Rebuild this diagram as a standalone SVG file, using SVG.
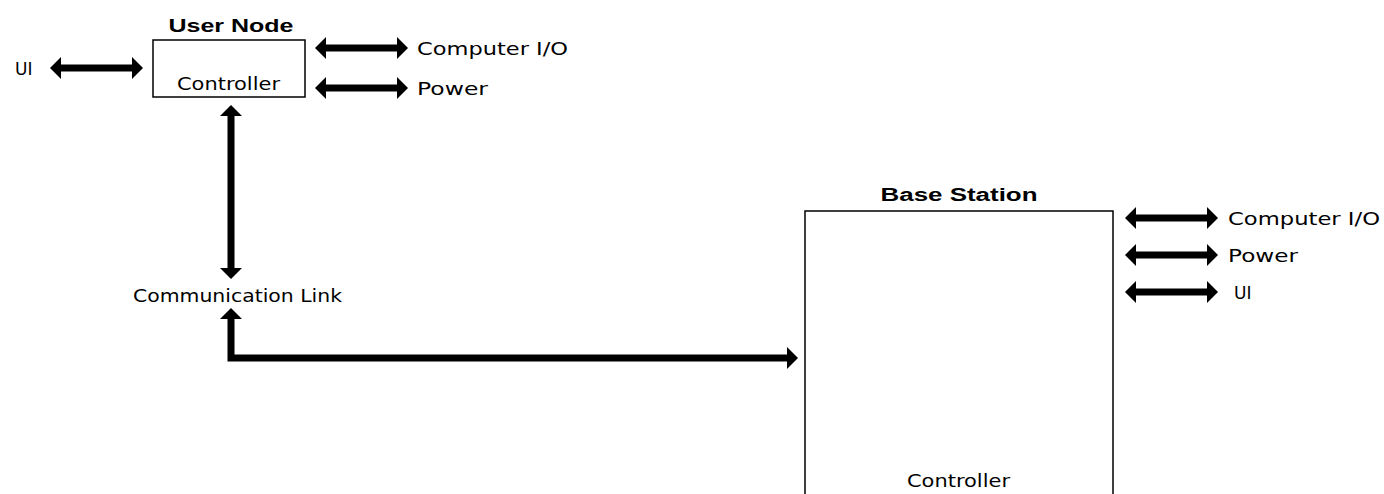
<svg xmlns="http://www.w3.org/2000/svg" width="1384" height="494" viewBox="0 0 1384 494">
<style>
.box{fill:#fff;stroke:#000;stroke-width:1.5}
.t{font-family:"DejaVu Sans","Liberation Sans",sans-serif;font-size:17px;fill:#000}
.h{font-family:"Liberation Sans",Arial,sans-serif;font-size:18px;font-weight:bold;fill:#000}
.c{fill:none;stroke:#000;stroke-width:7;stroke-linejoin:miter}
</style>
<defs>
<marker id="ah" markerUnits="userSpaceOnUse" markerWidth="11" markerHeight="22" refX="0" refY="11" orient="auto-start-reverse">
<path d="M0,0 L11,11 L0,22 z" fill="#000"/>
</marker>
</defs>
<rect width="1384" height="494" fill="#fff"/>
<g id="user-node">
<rect class="box" x="153" y="40" width="152" height="57"/>
<text class="h" x="231" y="32" text-anchor="middle" textLength="125" lengthAdjust="spacingAndGlyphs">User Node</text>
<text class="t" x="177" y="90" textLength="103" lengthAdjust="spacingAndGlyphs">Controller</text>
</g>
<g id="base-station">
<rect class="box" x="805" y="211" width="308" height="300"/>
<text class="h" x="959" y="201" text-anchor="middle" textLength="157" lengthAdjust="spacingAndGlyphs">Base Station</text>
<text class="t" x="907" y="487" textLength="103" lengthAdjust="spacingAndGlyphs">Controller</text>
</g>
<g id="labels">
<text class="t" x="15" y="75">UI</text>
<text class="t" x="417" y="55" textLength="151" lengthAdjust="spacingAndGlyphs">Computer I/O</text>
<text class="t" x="417" y="95" textLength="71" lengthAdjust="spacingAndGlyphs">Power</text>
<text class="t" x="133" y="302" textLength="209" lengthAdjust="spacingAndGlyphs">Communication Link</text>
<text class="t" x="1228" y="225" textLength="152" lengthAdjust="spacingAndGlyphs">Computer I/O</text>
<text class="t" x="1228" y="262" textLength="70" lengthAdjust="spacingAndGlyphs">Power</text>
<text class="t" x="1234" y="299">UI</text>
</g>
<g id="connectors">
<line class="c" x1="61" y1="68" x2="132" y2="68" marker-start="url(#ah)" marker-end="url(#ah)"/>
<line class="c" x1="326" y1="48" x2="397" y2="48" marker-start="url(#ah)" marker-end="url(#ah)"/>
<line class="c" x1="326" y1="88" x2="397" y2="88" marker-start="url(#ah)" marker-end="url(#ah)"/>
<line class="c" x1="231" y1="116" x2="231" y2="268" marker-start="url(#ah)" marker-end="url(#ah)"/>
<path class="c" d="M231,319 L231,358 L787,358" marker-start="url(#ah)" marker-end="url(#ah)"/>
<line class="c" x1="1136" y1="218" x2="1207" y2="218" marker-start="url(#ah)" marker-end="url(#ah)"/>
<line class="c" x1="1136" y1="255" x2="1207" y2="255" marker-start="url(#ah)" marker-end="url(#ah)"/>
<line class="c" x1="1136" y1="292" x2="1207" y2="292" marker-start="url(#ah)" marker-end="url(#ah)"/>
</g>
</svg>
